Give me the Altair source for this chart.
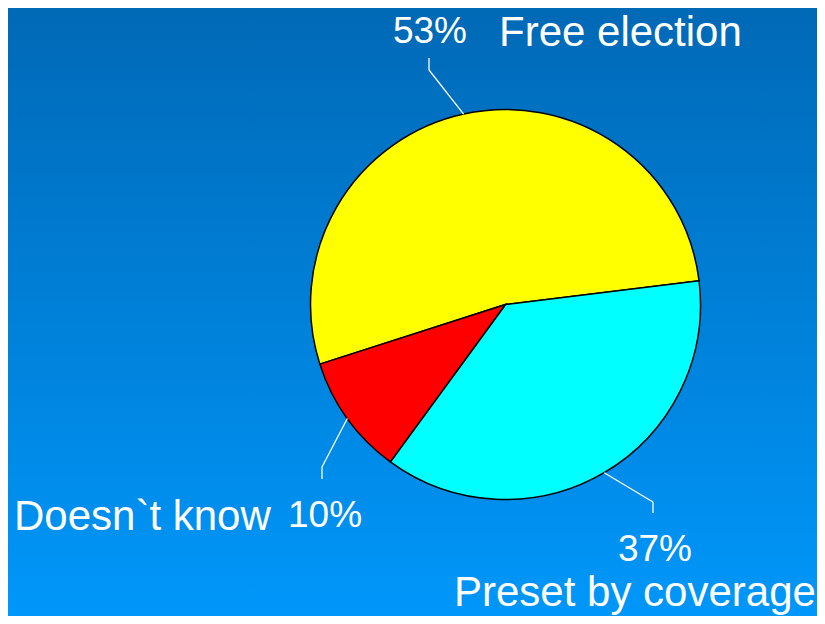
import math
import altair as alt
import pandas as pd

# ---- data ----
categories = ["Free election", "Preset by coverage", "Doesn`t know"]
values = [53, 37, 10]
pct_labels = ["53%", "37%", "10%"]
colors = ["#FFFF00", "#00FFFF", "#FF0000"]
draw_order = [2, 0, 1]  # clockwise sequence from the start angle

# ---- layout ----
W, H = 809, 608
CX, CY, R = 497.5, 296.5, 195
START_DEG = 83.0

df = pd.DataFrame({"cat": categories, "value": values, "ord": draw_order,
                   "pct": pct_labels})

# mid angles of slices (clockwise from 12 o'clock) for leader line starts
total = sum(values)
seq = sorted(range(len(values)), key=lambda i: draw_order[i])
acc = 0.0
mid = {}
for i in seq:
    a0 = START_DEG + 360 * acc / total
    acc += values[i]
    a1 = START_DEG + 360 * acc / total
    mid[i] = math.radians((a0 + a1) / 2)

edge = {i: (CX + R * math.sin(mid[i]), CY - R * math.cos(mid[i])) for i in mid}
elbow = {0: (421, 62), 1: (645, 494), 2: (314, 459)}
tip = {0: (421, 50), 1: (645, 505), 2: (314, 471)}

seg_rows = []
for i in range(3):
    seg_rows.append({"x": edge[i][0], "y": edge[i][1], "x2": elbow[i][0], "y2": elbow[i][1]})
    seg_rows.append({"x": elbow[i][0], "y": elbow[i][1], "x2": tip[i][0], "y2": tip[i][1]})
segs = pd.DataFrame(seg_rows)

pct_pos = {0: (422, 35, "center"), 1: (647, 553, "center"), 2: (280, 519, "left")}
lab_pos = {0: (491, 38), 1: (446, 598), 2: (6, 522)}

pct_df = pd.DataFrame({"t": pct_labels,
                       "x": [pct_pos[i][0] for i in range(3)],
                       "y": [pct_pos[i][1] for i in range(3)],
                       "al": [pct_pos[i][2] for i in range(3)]})
lab_df = pd.DataFrame({"t": categories,
                       "x": [lab_pos[i][0] for i in range(3)],
                       "y": [lab_pos[i][1] for i in range(3)]})

bg = alt.Chart(pd.DataFrame({"a": [0]})).mark_rect(
    color=alt.LinearGradient(
        gradient="linear",
        stops=[alt.GradientStop(offset=0, color="#0069B6"),
               alt.GradientStop(offset=1, color="#0097FA")],
        x1=0, x2=0, y1=0, y2=1),
).encode(x=alt.value(0), x2=alt.value(W), y=alt.value(0), y2=alt.value(H))

pie = alt.Chart(df).mark_arc(
    outerRadius=R, stroke="black", strokeWidth=1.5, x=CX, y=CY
).encode(
    theta=alt.Theta("value:Q", stack=True,
                    scale=alt.Scale(range=[math.radians(START_DEG),
                                           math.radians(START_DEG) + 2 * math.pi])),
    order=alt.Order("ord:Q"),
    color=alt.Color("cat:N", scale=alt.Scale(domain=categories, range=colors),
                    legend=None),
)

leaders = alt.Chart(segs).mark_rule(color="white", strokeWidth=1.3).encode(
    x=alt.X("x:Q", scale=None), y=alt.Y("y:Q", scale=None),
    x2="x2:Q", y2="y2:Q",
)

pct_center = alt.Chart(pct_df[pct_df.al == "center"]).mark_text(
    font="Liberation Sans", fontSize=37, color="white", align="center",
    baseline="alphabetic"
).encode(x=alt.X("x:Q", scale=None), y=alt.Y("y:Q", scale=None), text="t:N")

pct_left = alt.Chart(pct_df[pct_df.al == "left"]).mark_text(
    font="Liberation Sans", fontSize=37, color="white", align="left",
    baseline="alphabetic"
).encode(x=alt.X("x:Q", scale=None), y=alt.Y("y:Q", scale=None), text="t:N")

labels = alt.Chart(lab_df).mark_text(
    font="Liberation Sans", fontSize=42, color="white", align="left",
    baseline="alphabetic"
).encode(x=alt.X("x:Q", scale=None), y=alt.Y("y:Q", scale=None), text="t:N")

chart = alt.layer(bg, pie, leaders, pct_center, pct_left, labels).properties(
    width=W, height=H,
    autosize=alt.AutoSizeParams(type="fit", contains="padding"),
    padding=0,
).configure_view(stroke=None)

chart.save("out.html", embed_options={"renderer": "svg", "actions": False})
